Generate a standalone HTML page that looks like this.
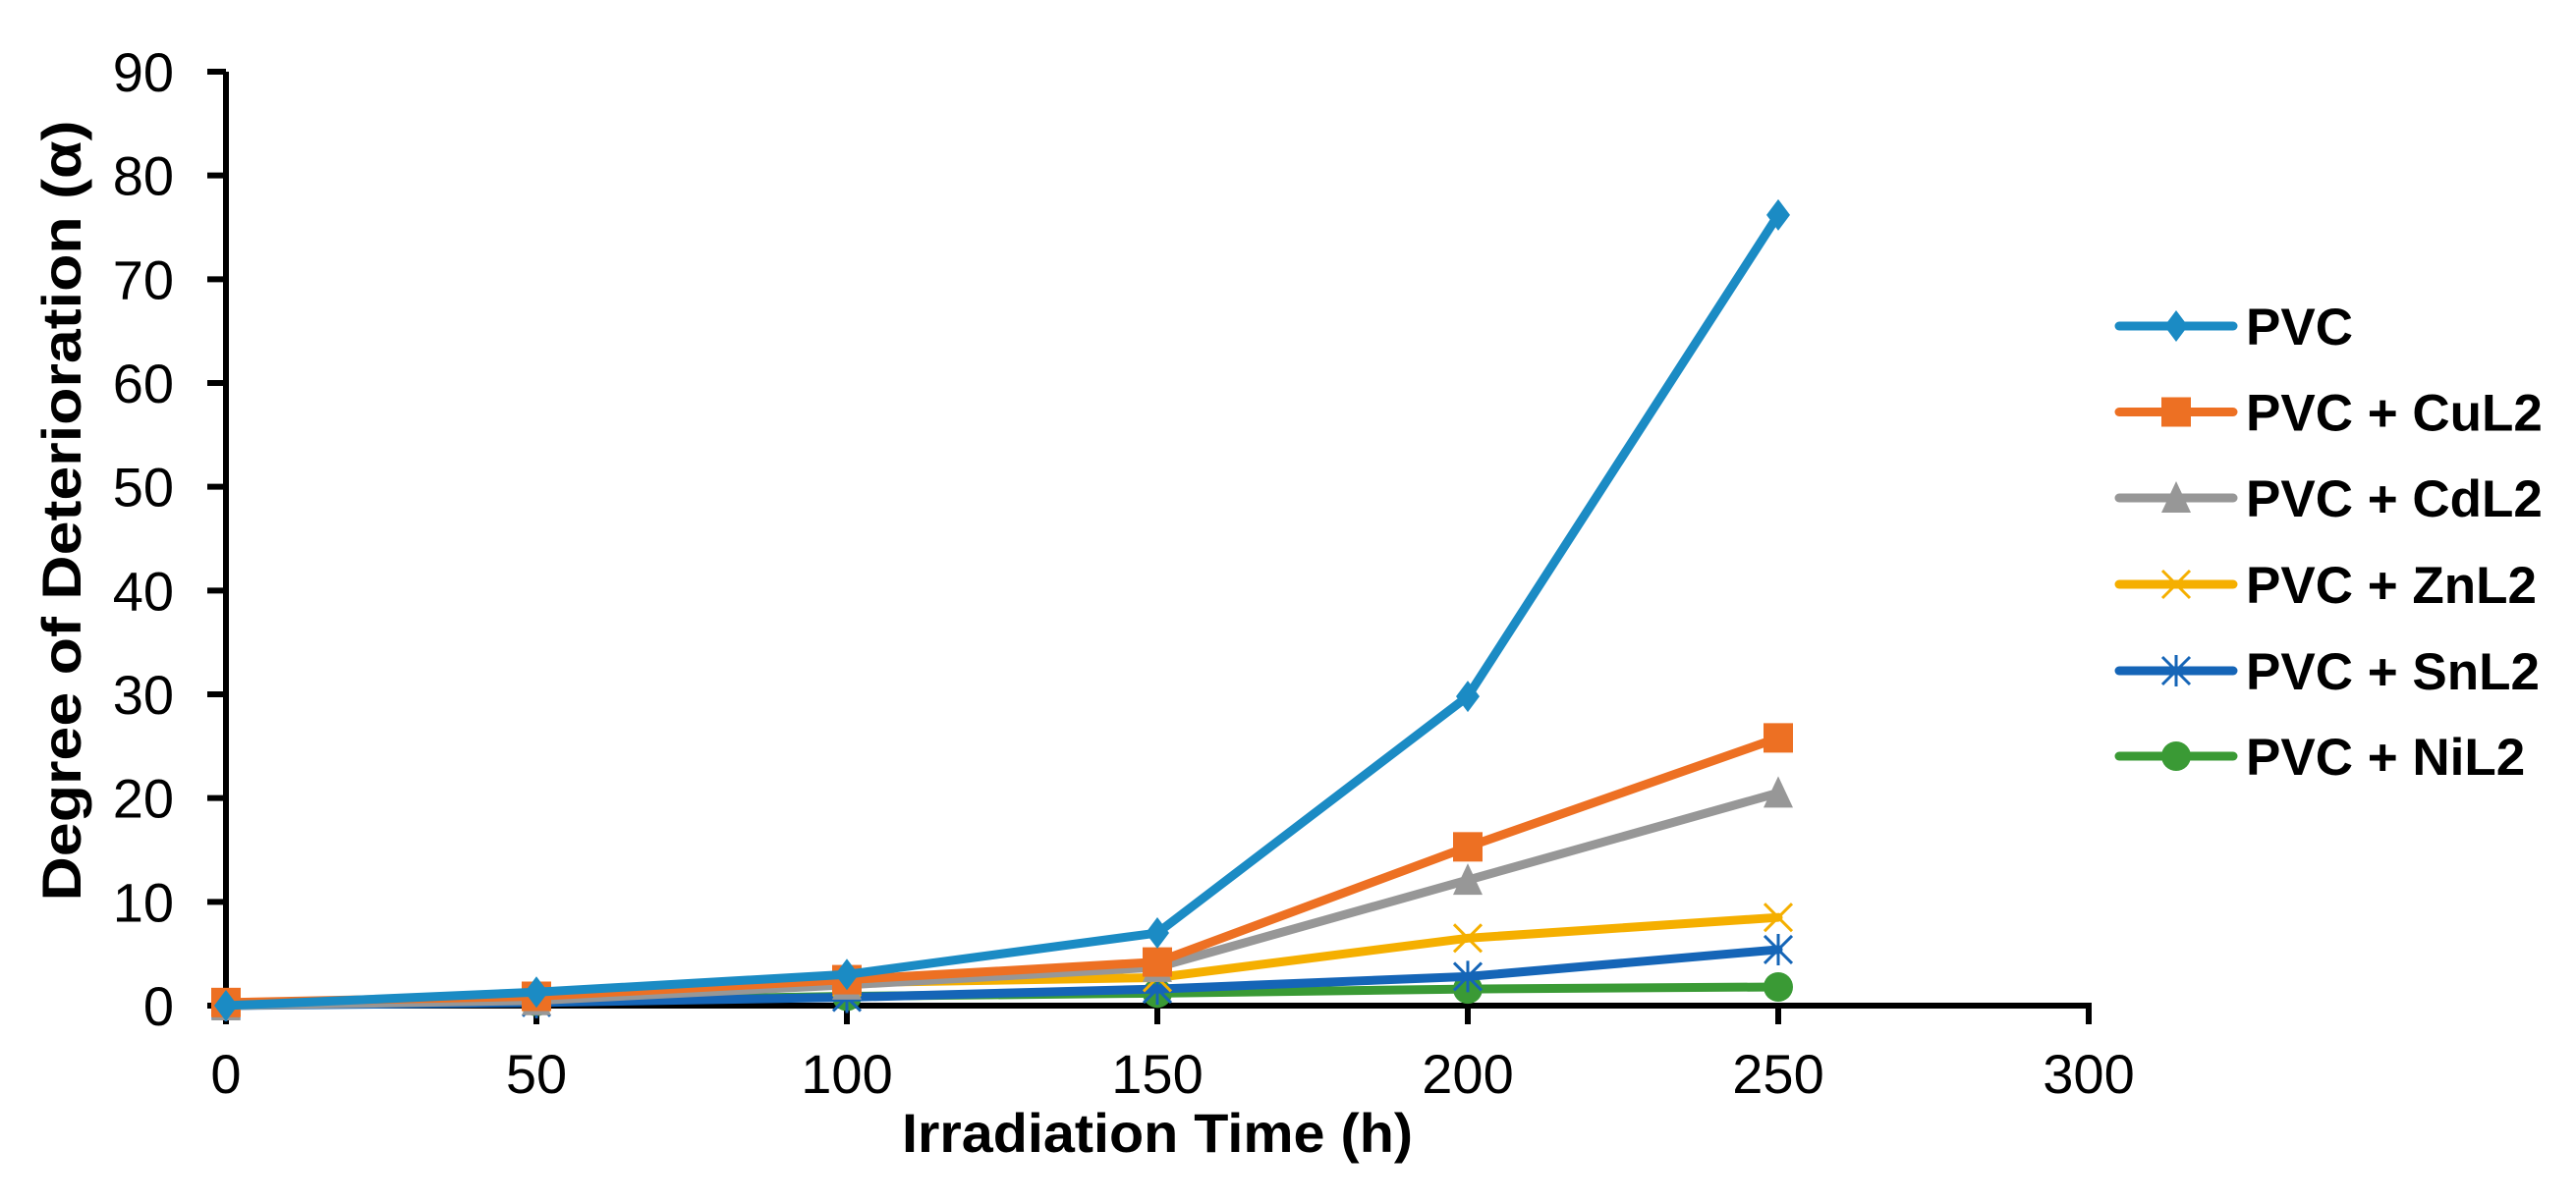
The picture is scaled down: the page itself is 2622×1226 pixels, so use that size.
<!DOCTYPE html>
<html><head><meta charset="utf-8">
<style>
html,body{margin:0;padding:0;background:#fff;}
svg{display:block;font-family:"Liberation Sans",Arial,sans-serif;}
</style></head>
<body>
<svg id="chart" width="2622" height="1226" viewBox="0 0 2622 1226" xmlns="http://www.w3.org/2000/svg">
  <rect width="2622" height="1226" fill="#fff"/>
  <g id="axes"></g>
  <g id="series"></g>
  <g id="legend"></g>
  <text x="1178" y="1173" font-size="56" font-weight="bold" text-anchor="middle" textLength="520" lengthAdjust="spacingAndGlyphs">Irradiation Time (h)</text>
  <text transform="translate(82,520) rotate(-90)" font-size="56" font-weight="bold" text-anchor="middle" textLength="795" lengthAdjust="spacingAndGlyphs">Degree of Deterioration (α)</text>
</svg>
<script>
const xCategories = [0, 50, 100, 150, 200, 250];
const xTicks = [0, 50, 100, 150, 200, 250, 300];
const yTicks = [0, 10, 20, 30, 40, 50, 60, 70, 80, 90];
const seriesNames = ["PVC", "PVC + CuL2", "PVC + CdL2", "PVC + ZnL2", "PVC + SnL2", "PVC + NiL2"];
const pvc  = [0, 1.3, 3.0, 7.0, 29.8, 76.2];
const cuL2 = [0.3, 0.9, 2.5, 4.2, 15.3, 25.8];
const cdL2 = [0, 0.5, 2.0, 3.7, 12.1, 20.5];
const znL2 = [0.2, 0.8, 2.2, 2.7, 6.5, 8.5];
const snL2 = [0, 0.3, 0.8, 1.6, 2.8, 5.4];
const niL2 = [0.2, 0.4, 0.9, 1.2, 1.6, 1.8];

const NS = "http://www.w3.org/2000/svg";
const X0 = 230, X1 = 2126, Y0 = 1024, Y1 = 73;
const xScale = v => X0 + v / 300 * (X1 - X0);
const yScale = v => Y0 - v / 90 * (Y0 - Y1);
function mk(tag, attrs, parent) {
  const e = document.createElementNS(NS, tag);
  for (const k in attrs) e.setAttribute(k, attrs[k]);
  parent.appendChild(e);
  return e;
}
const axes = document.getElementById('axes');
const seriesG = document.getElementById('series');
const legendG = document.getElementById('legend');

const yAxis = mk('line', {x1: X0, y1: Y1, x2: X0, y2: Y0, stroke: '#000', 'stroke-width': 6}, axes);


const xAxis = mk('line', {x1: X0 - 3, y1: Y0, x2: X1 + 3, y2: Y0, stroke: '#000', 'stroke-width': 6}, axes);


yTicks.forEach(t => {
  const y = yScale(t);
  const tk = mk('line', {x1: 211, y1: y, x2: X0, y2: y, stroke: '#000', 'stroke-width': 6}, axes);
  
  
  const lb = mk('text', {x: 177, y: y + 20, 'font-size': 56, 'text-anchor': 'end'}, axes);
  lb.textContent = t;
  
  
});
xTicks.forEach(t => {
  const x = xScale(t);
  const tk = mk('line', {x1: x, y1: Y0, x2: x, y2: 1043, stroke: '#000', 'stroke-width': 6}, axes);
  
  
  const lb = mk('text', {x: x, y: 1113, 'font-size': 56, 'text-anchor': 'middle'}, axes);
  lb.textContent = t;
  
  
});

const seriesData = [pvc, cuL2, cdL2, znL2, snL2, niL2];
const colors = ["#1B8BC4", "#ED7023", "#979797", "#F5AF00", "#1565B7", "#3A9A35"];
const markers = ["diamond", "square", "triangle", "x", "star", "circle"];
const slugs = ["pvc", "cul2", "cdl2", "znl2", "snl2", "nil2"];

function marker(type, x, y, color, parent) {
  let m;
  if (type === 'diamond') m = mk('polygon', {points: `${x},${y-16} ${x+12},${y} ${x},${y+16} ${x-12},${y}`, fill: color}, parent);
  else if (type === 'square') m = mk('rect', {x: x-15, y: y-15, width: 30, height: 30, fill: color}, parent);
  else if (type === 'triangle') m = mk('polygon', {points: `${x},${y-17} ${x+15},${y+15} ${x-15},${y+15}`, fill: color}, parent);
  else if (type === 'circle') m = mk('circle', {cx: x, cy: y, r: 15, fill: color}, parent);
  else if (type === 'x') m = mk('path', {d: `M${x-14},${y-14}L${x+14},${y+14}M${x+14},${y-14}L${x-14},${y+14}`, stroke: color, 'stroke-width': 3, fill: 'none'}, parent);
  else m = mk('path', {d: `M${x-14},${y-14}L${x+14},${y+14}M${x+14},${y-14}L${x-14},${y+14}M${x},${y-16}L${x},${y+16}`, stroke: color, 'stroke-width': 3, fill: 'none'}, parent);
  return m;
}

[5,4,3,2,1,0].forEach(i => {
  const vals = seriesData[i];
  const g = mk('g', {}, seriesG);
  
  
  const pts = vals.map((v, j) => xScale(xCategories[j]) + ',' + yScale(v)).join(' ');
  const pl = mk('polyline', {points: pts, fill: 'none', stroke: colors[i], 'stroke-width': 9, 'stroke-linejoin': 'round', 'stroke-linecap': 'round'}, g);
  
  
  vals.forEach((v, j) => {
    const m = marker(markers[i], xScale(xCategories[j]), yScale(v), colors[i], g);
    
    
  });
});

const legendRows = [332, 419.5, 507, 595, 683, 770];
seriesNames.forEach((name, i) => {
  const y = legendRows[i];
  const g = mk('g', {}, legendG);
  
  
  mk('line', {x1: 2157, y1: y, x2: 2273, y2: y, stroke: colors[i], 'stroke-width': 9, 'stroke-linecap': 'round'}, g);
  marker(markers[i], 2215, y, colors[i], g);
  const t = mk('text', {x: 2286, y: y + 19, 'font-size': 53, 'font-weight': 'bold'}, g);
  t.textContent = name;
});
</script>
</body></html>
